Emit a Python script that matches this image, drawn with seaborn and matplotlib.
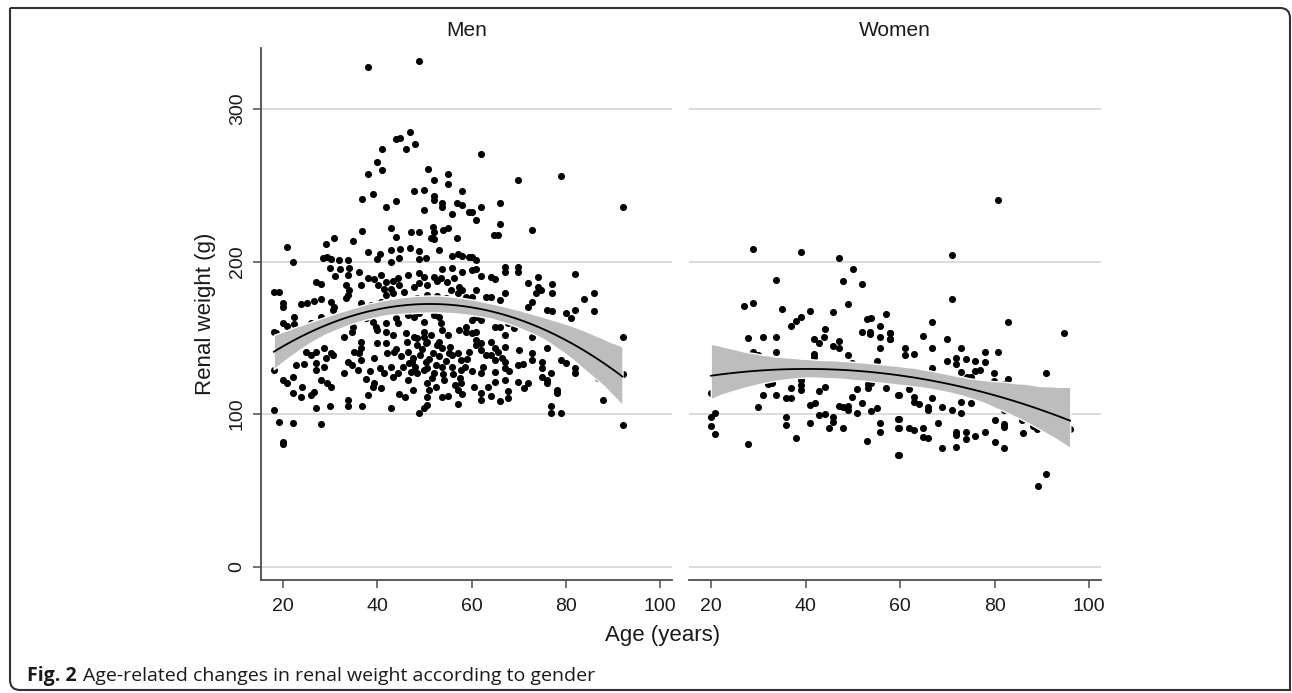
import numpy as np
import pandas as pd
import matplotlib
matplotlib.use('Agg')
import matplotlib.pyplot as plt
import seaborn as sns
from matplotlib.path import Path
from matplotlib.patches import PathPatch

sns.set_style("white")
plt.rcParams['font.family'] = ['Liberation Sans', 'DejaVu Sans']

# ---------------------------------------------------------------------------
# Data (age in years, renal weight in g)
# ---------------------------------------------------------------------------
men_age = [
    37.9, 48.9, 47.0, 44.0, 44.7, 47.9, 41.0, 46.0,
    39.9, 37.9, 40.9, 50.8, 55.0, 51.9, 55.0, 57.9, 47.8, 49.9, 39.0, 36.8, 43.9, 51.9, 51.9, 53.8,
    53.8, 56.8, 58.0, 41.8, 49.9, 55.8, 59.5,
    36.8, 42.8, 47.1, 48.9, 51.7, 51.9, 54.0, 54.9, 43.9, 51.3, 52.0, 56.8, 30.8, 29.1, 34.9, 20.9,
    22.0, 37.9, 40.6, 42.8, 44.8, 46.9, 48.9, 53.1, 55.9, 57.0, 57.9, 59.5,
    28.4, 29.4, 30.1, 31.9, 33.8, 39.9, 42.8, 44.6, 48.9, 50.3, 53.8, 55.9, 57.9, 30.0, 32.1, 34.0,
    36.0, 31.0, 33.8, 37.9, 39.2, 40.7, 41.8, 43.2, 44.3, 46.4, 48.9, 49.9, 52.7, 54.7, 56.3, 57.3,
    58.0, 26.9, 28.1, 33.3, 34.0, 33.8, 36.5, 40.2, 41.3, 42.8, 44.6, 45.7, 47.8, 48.9, 50.6, 52.0,
    53.4, 55.6,
    18.1, 19.2, 19.9, 19.9, 23.8, 25.0, 26.6, 28.0, 30.1, 30.7, 33.3, 36.5, 38.6, 40.7, 41.8, 43.2,
    46.7, 48.5, 50.6, 52.7, 54.5, 57.0, 58.8,
    18.1, 18.4, 19.9, 20.9, 22.3, 22.3, 28.0, 25.9, 30.5, 32.6, 34.9, 36.3, 37.5, 39.0, 39.7, 40.0,
    41.8, 41.8, 43.9, 44.3, 46.4, 47.8, 48.9, 49.9, 52.0, 53.1, 53.4, 53.8, 57.3, 58.8, 32.9, 34.7,
    43.2, 46.0, 47.8, 49.9, 50.3, 51.3, 52.7, 54.9,
    19.9, 23.8, 24.8, 26.9, 28.7, 30.1, 26.9, 29.1, 28.7, 30.5, 33.7, 34.7, 35.8, 36.5, 36.1, 36.5,
    39.3, 40.0, 41.8, 43.5, 46.2, 48.5, 48.5, 49.8, 50.6, 51.7, 53.1, 53.8, 55.2, 55.9, 57.0, 57.7,
    47.4, 50.3, 47.1, 48.5, 49.9, 52.0, 53.8, 55.9, 57.7, 46.7, 42.8, 41.4, 43.2, 44.3, 32.9, 26.9,
    18.1, 19.9, 20.9, 22.0, 22.7, 24.5, 25.9,
    22.0, 23.8, 23.9, 25.9, 26.6, 28.0, 29.4, 30.1, 26.9, 30.0, 33.8, 33.8, 36.8, 37.9, 39.0, 39.3,
    40.7, 42.8, 45.8, 46.4, 48.9, 49.9, 50.6, 50.6, 51.0, 50.6, 53.8, 54.2, 57.0, 57.0, 57.7,
    18.0, 19.2, 22.0, 28.0, 19.9, 19.9,
    61.9, 69.9, 78.9, 92.0, 66.0, 60.0, 61.9, 61.0, 66.0, 64.8, 65.6, 72.9,
    60.0, 61.0, 60.0, 61.0, 61.9, 67.0, 67.0, 69.8, 69.8, 64.1, 64.9, 72.0, 74.0, 74.0, 73.7, 74.8,
    77.1, 77.1, 81.9, 86.0, 83.9, 61.0, 60.0, 63.1, 64.1, 66.0, 67.0, 72.7, 72.0, 75.9, 77.1, 80.0,
    81.0, 81.9, 86.0,
    60.0, 61.0, 61.9, 58.9, 60.0, 61.0, 61.0, 61.0, 61.9, 61.9, 64.9, 66.0, 67.7, 69.0, 67.0, 64.1,
    64.9, 64.1, 64.9, 67.0, 67.0, 67.0, 69.8, 70.9, 72.9, 72.9, 72.9, 75.9, 74.9, 74.9, 76.9, 74.9,
    75.9, 75.9, 79.0, 80.0, 81.9, 86.8, 92.0, 92.0, 61.9, 64.9, 64.9, 67.0, 69.8, 72.0, 61.9, 66.0,
    67.7, 67.7, 78.0, 78.0, 76.9, 76.9, 78.9, 87.9, 92.0,
    44.0, 45.0, 45.5, 46.5, 47.5, 48.0, 49.0, 49.5, 50.5, 51.0, 51.5, 52.5, 53.0, 54.0, 54.5, 55.5,
    56.0, 56.5, 57.5, 58.5, 59.0, 59.5, 60.0, 60.5, 62.5, 63.0, 63.5, 65.5, 66.5, 68.0, 70.0, 71.0,
    42.0, 40.5, 38.5, 37.5, 36.5, 35.0, 44.5, 47.5, 52.5, 55.0, 58.0, 62.0, 64.0, 82.0, 84.0, 88.5,
]
men_weight = [
    327.6, 331.3, 285.0, 280.3, 280.8, 277.3, 273.8, 273.8,
    265.6, 257.6, 260.2, 260.6, 257.6, 253.2, 250.8, 246.0, 246.0, 247.0, 244.4, 240.9, 239.8, 242.7, 240.5, 238.3,
    236.1, 238.3, 237.2, 235.7, 233.9, 231.1, 232.8,
    220.2, 221.9, 219.1, 219.7, 222.6, 219.7, 220.8, 221.9, 216.4, 215.3, 214.7, 215.3, 215.3, 211.4, 213.2, 209.4,
    200.0, 206.2, 205.1, 207.7, 208.1, 208.8, 207.0, 207.7, 203.7, 204.8, 203.7, 202.9,
    202.2, 202.9, 201.6, 201.1, 201.1, 201.6, 200.0, 202.2, 201.6, 202.2, 195.0, 195.6, 193.5, 195.6, 195.0, 195.6,
    193.5, 190.6, 191.3, 189.5, 188.4, 191.3, 186.9, 187.6, 189.1, 191.3, 192.8, 190.2, 187.6, 186.9, 189.1, 183.6,
    181.4, 186.9, 185.4, 184.7, 181.4, 178.2, 184.7, 184.7, 181.9, 181.9, 184.7, 180.3, 183.6, 185.8, 184.7, 190.2,
    189.1, 181.4,
    180.3, 180.3, 172.7, 170.5, 172.3, 173.1, 174.2, 175.3, 173.8, 170.1, 175.9, 172.7, 171.6, 173.8, 178.2, 179.2,
    174.4, 176.0, 178.2, 177.5, 176.0, 179.2, 177.1,
    154.1, 153.0, 159.6, 157.8, 159.2, 163.9, 163.9, 159.6, 168.3, 160.7, 157.4, 165.0, 162.8, 160.7, 157.4, 155.2,
    159.6, 154.1, 162.8, 159.6, 165.0, 163.9, 166.1, 160.7, 165.0, 163.9, 159.6, 155.2, 155.2, 157.4, 150.8, 154.1,
    151.9, 153.0, 150.8, 150.8, 146.4, 151.9, 145.3, 151.9,
    146.4, 145.3, 141.0, 141.0, 143.2, 140.3, 133.3, 136.6, 131.1, 138.8, 134.4, 132.2, 128.9, 143.2, 139.9, 135.5,
    136.6, 146.9, 146.4, 141.0, 147.5, 149.7, 145.3, 154.1, 147.5, 139.9, 147.5, 143.2, 140.3, 138.8, 139.9, 135.5,
    134.4, 134.4, 127.8, 126.8, 128.9, 126.8, 131.1, 131.1, 128.9, 133.3, 131.1, 126.8, 124.6, 127.2, 127.2, 128.9,
    128.9, 122.4, 120.6, 124.6, 132.2, 132.7, 138.8,
    113.6, 111.4, 118.0, 112.5, 114.7, 122.4, 120.2, 118.0, 103.8, 105.3, 109.3, 105.3, 105.3, 112.5, 118.0, 120.2,
    116.9, 103.8, 111.0, 122.4, 100.5, 103.8, 106.0, 111.4, 115.8, 120.2, 111.0, 122.4, 106.6, 115.8, 120.2,
    102.7, 95.0, 93.9, 93.5, 81.9, 80.4,
    270.7, 253.6, 255.8, 235.7, 238.3, 232.8, 235.7, 227.4, 224.7, 217.5, 217.5, 220.8,
    202.9, 201.1, 194.6, 195.0, 190.6, 196.7, 193.5, 196.7, 193.5, 190.2, 188.4, 186.2, 190.2, 183.6, 179.2, 181.4,
    185.2, 179.2, 191.7, 179.2, 175.3, 181.4, 177.1, 177.1, 177.1, 174.9, 179.2, 173.8, 170.5, 168.3, 167.9, 166.6,
    163.3, 168.3, 167.9,
    161.8, 164.0, 161.8, 154.1, 153.0, 154.1, 148.6, 145.3, 142.1, 146.4, 157.4, 157.4, 159.6, 156.3, 151.9, 147.5,
    143.2, 138.8, 135.5, 144.3, 134.4, 130.0, 132.2, 132.7, 150.8, 139.9, 135.5, 143.2, 134.4, 130.0, 126.8, 124.6,
    122.4, 120.2, 135.5, 133.3, 127.2, 123.5, 150.4, 126.3, 127.2, 127.8, 121.3, 122.4, 121.3, 120.6, 114.1, 108.8,
    115.4, 110.3, 115.8, 113.6, 105.3, 100.5, 100.5, 109.3, 92.9,
    143.0, 138.0, 131.0, 141.0, 137.0, 131.0, 139.0, 143.0, 130.0, 136.0, 124.0, 132.0, 138.0, 126.0, 135.0, 144.0,
    126.0, 119.0, 124.0, 131.0, 136.0, 141.0, 128.0, 118.0, 131.0, 139.0, 118.0, 141.0, 137.0, 128.0, 142.0, 117.0,
    140.0, 130.0, 128.0, 123.0, 147.0, 141.0, 113.0, 116.0, 118.0, 112.0, 113.0, 109.0, 112.0, 130.0, 138.0, 124.0,
]

women_age = [
    28.8, 39.0, 47.0, 50.0, 47.9, 52.0, 33.8, 27.0, 28.8, 35.0, 41.0, 49.0, 45.8, 36.9, 38.0, 39.0,
    56.9, 53.0, 53.9, 52.0, 53.7, 53.7, 55.8, 55.8, 55.8, 57.8, 57.8, 27.8, 30.9, 33.8, 44.0, 43.8,
    41.7, 42.8, 47.0, 45.8, 47.0, 28.8, 30.0, 33.8, 41.7, 41.7, 49.0, 55.0, 36.9, 49.8,
    19.9, 20.9, 32.0, 32.9, 30.9, 33.8, 35.9, 36.9, 36.9, 39.0, 39.0, 42.9, 44.0, 39.0, 30.0, 41.0,
    41.9, 47.0, 47.9, 49.0, 49.0, 49.8, 50.9, 52.0, 53.2, 53.2, 53.9, 55.0, 53.9, 56.9, 59.6,
    19.9, 20.9, 19.9, 20.9, 27.8, 35.9, 35.9, 38.0, 41.0, 42.9, 44.0, 44.9, 45.8, 45.8, 47.9, 50.9,
    53.0, 55.8, 55.8, 59.6, 59.6, 59.6,
    80.8, 70.9, 70.9, 66.8, 82.9, 94.7, 57.8, 57.8, 64.9, 69.8, 61.0, 61.0, 62.9, 66.8, 72.8, 69.8,
    71.9, 71.9, 73.9, 75.8, 78.0, 78.0, 80.8, 66.8, 72.8, 74.1, 74.9, 75.8, 76.8, 79.9, 79.9, 81.9,
    82.9, 85.0, 86.8, 90.9,
    59.8, 61.8, 62.9, 62.9, 64.0, 65.9, 65.9, 66.8, 68.9, 70.9, 72.8, 72.8, 74.9, 59.8, 59.8, 61.8,
    62.9, 64.9, 64.9, 65.9, 67.9, 71.9, 71.9, 73.9, 73.9, 75.8, 78.0, 80.0, 81.9, 81.9, 80.0, 81.9,
    68.9, 71.9, 59.8, 86.0, 88.1, 88.9, 90.9, 81.9, 85.8, 96.0, 89.2,
]
women_weight = [
    208.1, 206.6, 202.6, 195.0, 187.5, 185.1, 188.0, 170.9, 173.1, 168.7, 167.9, 172.0, 167.2, 158.0, 161.3, 163.9,
    165.5, 162.2, 163.3, 153.6, 154.1, 152.6, 157.8, 150.4, 143.6, 153.4, 149.1, 150.1, 150.8, 150.8, 155.6, 150.8,
    149.1, 146.4, 148.0, 144.9, 143.1, 140.9, 138.8, 140.5, 139.4, 137.2, 138.8, 134.8, 134.4, 133.7,
    114.1, 113.6, 119.5, 120.6, 112.5, 112.5, 110.8, 110.8, 116.9, 119.1, 115.8, 115.4, 118.0, 122.4, 104.9, 106.0,
    107.1, 105.3, 104.9, 105.3, 102.7, 111.4, 116.2, 107.1, 116.9, 119.7, 120.6, 103.8, 102.3, 117.3, 112.5,
    98.3, 100.5, 92.4, 86.9, 80.4, 98.3, 92.8, 84.5, 93.9, 99.4, 99.8, 90.7, 97.9, 95.0, 90.7, 100.9,
    82.6, 93.9, 88.5, 96.6, 90.7, 73.2,
    240.5, 204.4, 175.3, 160.6, 160.6, 153.4, 153.0, 149.1, 151.5, 149.3, 143.6, 138.8, 139.4, 143.1, 143.1, 135.1,
    137.0, 132.9, 135.9, 135.1, 140.5, 134.0, 141.0, 130.5, 127.8, 124.6, 124.1, 128.3, 128.9, 126.7, 121.9, 119.7,
    122.8, 115.8, 115.8, 127.2,
    112.5, 116.2, 111.4, 108.1, 106.6, 104.9, 102.7, 110.8, 104.9, 102.7, 108.1, 100.5, 107.1, 96.6, 90.7, 90.7,
    89.6, 90.7, 84.8, 84.1, 93.9, 88.5, 86.3, 88.5, 83.4, 85.6, 88.0, 96.1, 93.5, 91.7, 81.5, 77.5,
    77.5, 78.6, 73.2, 87.8, 92.2, 90.0, 61.1, 102.7, 96.1, 90.0, 53.0,
]

panel_titles = ['Men', 'Women']
y_ticks = [0, 100, 200, 300]
x_ticks = [20, 40, 60, 80, 100]

df = pd.concat([
    pd.DataFrame({'age': men_age, 'weight': men_weight, 'sex': 'Men'}),
    pd.DataFrame({'age': women_age, 'weight': women_weight, 'sex': 'Women'}),
], ignore_index=True)

# ---------------------------------------------------------------------------
# Figure layout (pixel boxes -> figure fractions)
# ---------------------------------------------------------------------------
W, H = 1292, 693
fig = plt.figure(figsize=(W / 100, H / 100), dpi=100)


def px_box(x0, y0, x1, y1):
    return [x0 / W, 1 - y1 / H, (x1 - x0) / W, (y1 - y0) / H]


ax_men = fig.add_axes(px_box(261, 48, 672, 580))
ax_women = fig.add_axes(px_box(689, 48, 1101, 580))

AXIS_COLOR = '#4d4d4d'
BAND_COLOR = '#bdbdbd'

for ax, name in zip([ax_men, ax_women], panel_titles):
    sub = df[df['sex'] == name]
    sns.scatterplot(data=sub, x='age', y='weight', color='black', s=26,
                    linewidth=0, ax=ax, zorder=2, legend=False)
    sns.regplot(data=sub, x='age', y='weight', order=2, scatter=False, ci=95,
                seed=0, color='black', line_kws=dict(lw=1.3, zorder=4), ax=ax)
    # Stata-like opaque grey CI band on top of the dots
    band = ax.collections[-1]
    band.set_facecolor(BAND_COLOR)
    band.set_alpha(1)
    band.set_zorder(3)

    ax.set_xlim(15.3, 102.5)
    ax.set_ylim(-8.7, 340)
    ax.set_xticks(x_ticks)
    ax.set_yticks(y_ticks)
    ax.yaxis.grid(True, color='#dcdcdc', lw=1.4)
    ax.xaxis.grid(False)
    ax.set_axisbelow(True)
    ax.set_xlabel('')
    ax.set_ylabel('')
    ax.set_title(name, fontsize=15, pad=9, color='#1a1a1a')

    for side in ['top', 'right']:
        ax.spines[side].set_visible(False)
    ax.spines['bottom'].set_color(AXIS_COLOR)
    ax.spines['bottom'].set_linewidth(1.3)
    ax.tick_params(axis='x', length=6, width=1.1, color=AXIS_COLOR,
                   labelsize=14, pad=7, labelcolor='#1a1a1a', bottom=True)

ax_men.spines['left'].set_color(AXIS_COLOR)
ax_men.spines['left'].set_linewidth(1.3)
ax_men.tick_params(axis='y', length=6, width=1.1, color=AXIS_COLOR,
                   labelsize=14, pad=5, labelcolor='#1a1a1a', left=True,
                   labelrotation=90)
for lab in ax_men.get_yticklabels():
    lab.set_va('center')

ax_women.spines['left'].set_visible(False)
ax_women.tick_params(axis='y', left=False, labelleft=False)

# Shared axis titles
fig.text(663 / W, 1 - 635 / H, 'Age (years)', ha='center', va='center',
         fontsize=16, color='#1a1a1a')
fig.text(205 / W, 1 - 314 / H, 'Renal weight (g)', ha='center', va='center',
         rotation=90, fontsize=16, color='#1a1a1a')

# Caption
fig.text(27 / W, 1 - 681 / H, 'Fig. 2', fontsize=14, fontweight='bold',
         family=['Open Sans', 'DejaVu Sans'], va='baseline', color='#1a1a1a')
fig.text(83 / W, 1 - 681 / H,
         'Age-related changes in renal weight according to gender',
         fontsize=14, family=['Open Sans', 'DejaVu Sans'], va='baseline',
         color='#1a1a1a')

# Frame with rounded top-right and bottom-left corners
x0, x1, y0, y1, r = 10, 1290, 8, 690, 10
pts = [(x0, y0), (x1 - r, y0), (x1, y0), (x1, y0 + r), (x1, y1),
       (x0 + r, y1), (x0, y1), (x0, y1 - r), (x0, y0)]
codes = [Path.MOVETO, Path.LINETO, Path.CURVE3, Path.CURVE3, Path.LINETO,
         Path.LINETO, Path.CURVE3, Path.CURVE3, Path.LINETO]
frame = Path([(x / W, 1 - y / H) for x, y in pts], codes)
fig.patches.append(PathPatch(frame, transform=fig.transFigure, fill=False,
                             edgecolor='#333333', lw=1.5))

fig.savefig('out.png', dpi=100)
